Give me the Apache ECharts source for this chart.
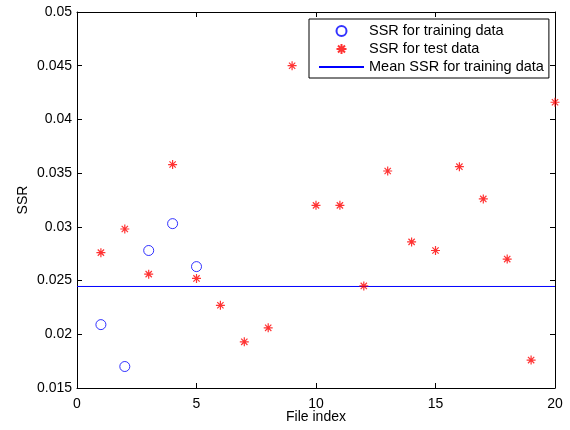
<!DOCTYPE html>
<html>
<head>
<meta charset="utf-8">
<script src="https://cdn.jsdelivr.net/npm/echarts@6/dist/echarts.min.js"></script>
<style>
html,body{margin:0;padding:0;background:#fff;}
#chart{width:570px;height:430px;}
</style>
</head>
<body>
<div id="chart"></div>
<script>
// ---- data ----
const trainIndex = [1, 2, 3, 4, 5];
const trainSSR = [0.0209, 0.0170, 0.0278, 0.0303, 0.0263];
const testIndex = [1, 2, 3, 4, 5, 6, 7, 8, 9, 10, 11, 12, 13, 14, 15, 16, 17, 18, 19, 20];
const testSSR = [0.0276, 0.0298, 0.0256, 0.0358, 0.0252, 0.0227, 0.0193, 0.0206, 0.0450, 0.0320,
                 0.0320, 0.0245, 0.0352, 0.0286, 0.0278, 0.0356, 0.0326, 0.0270, 0.0176, 0.0416];
const meanX = [0, 20];
const meanSSR = [0.02445, 0.02445];
const xTicks = {min: 0, max: 20, interval: 5};
const yTicks = {min: 0.015, max: 0.05, interval: 0.005};
const seriesNames = ['SSR for training data', 'SSR for test data', 'Mean SSR for training data'];
const xName = 'File index';
const yName = 'SSR';

// ---- chart ----
const FONT = 'Liberation Sans, Arial, Helvetica, sans-serif';
const starPath = 'path://M0,5L10,5M5,0L5,10M1.5,1.5L8.5,8.5M8.5,1.5L1.5,8.5';
const chart = echarts.init(document.getElementById('chart'), null, {renderer: 'canvas'});

const axisLine = {show: true, onZero: false, lineStyle: {color: '#000', width: 1}};
const tick = {show: true, inside: true, length: 5, lineStyle: {color: '#000'}};
const lbl = {color: '#000', fontSize: 14, fontFamily: FONT};
const CLEAR = 'rgba(0,0,0,0)';

const option = {
  animation: false,
  backgroundColor: '#fff',
  grid: {left: 77, right: 15, top: 12, bottom: 42, containLabel: false},
  xAxis: [
    {type: 'value', position: 'bottom', min: xTicks.min, max: xTicks.max, interval: xTicks.interval,
     name: xName, nameLocation: 'middle', nameGap: 22, nameMoveOverlap: false,
     nameTextStyle: {color: '#000', fontSize: 14, fontFamily: FONT, verticalAlign: 'top'},
     axisLine: axisLine, axisTick: tick, axisLabel: Object.assign({margin: 9}, lbl),
     splitLine: {show: false}},
    {type: 'value', position: 'top', min: xTicks.min, max: xTicks.max, interval: xTicks.interval,
     axisLine: axisLine, axisTick: tick, axisLabel: {show: false}, splitLine: {show: false}}
  ],
  yAxis: [
    {type: 'value', position: 'left', min: yTicks.min, max: yTicks.max, interval: yTicks.interval,
     name: yName, nameLocation: 'middle', nameGap: 47, nameMoveOverlap: false,
     nameTextStyle: {color: '#000', fontSize: 14, fontFamily: FONT},
     axisLine: axisLine, axisTick: tick, axisLabel: Object.assign({margin: 5}, lbl),
     splitLine: {show: false}},
    {type: 'value', position: 'right', min: yTicks.min, max: yTicks.max, interval: yTicks.interval,
     axisLine: axisLine, axisTick: tick, axisLabel: {show: false}, splitLine: {show: false}}
  ],
  legend: {
    orient: 'vertical', left: 309, top: 19,
    backgroundColor: '#fff', borderColor: '#000', borderWidth: 1, borderRadius: 0,
    padding: [3, 5, 2, 9],
    itemWidth: 45, itemHeight: 10, itemGap: 0,
    textStyle: {color: '#000', fontSize: 14.5, fontFamily: FONT, lineHeight: 18},
    data: seriesNames
  },
  series: [
    {name: seriesNames[0], type: 'scatter', xAxisIndex: 0, yAxisIndex: 0,
     symbol: 'circle', symbolSize: 10,
     itemStyle: {color: CLEAR, borderColor: '#0000ff', borderWidth: 1},
     data: trainIndex.map((x, i) => [x, trainSSR[i]]), z: 3},
    {name: seriesNames[1], type: 'scatter', xAxisIndex: 0, yAxisIndex: 0,
     symbol: starPath, symbolSize: 9,
     itemStyle: {color: CLEAR, borderColor: '#ff0000', borderWidth: 1.2},
     data: testIndex.map((x, i) => [x, testSSR[i]]), z: 4},
    {name: seriesNames[2], type: 'line', xAxisIndex: 0, yAxisIndex: 0,
     symbol: 'none', lineStyle: {color: '#0000ff', width: 1},
     itemStyle: {color: CLEAR, borderColor: CLEAR, borderWidth: 0},
     data: meanX.map((x, i) => [x, meanSSR[i]]), z: 2}
  ]
};
chart.setOption(option);
</script>
</body>
</html>
